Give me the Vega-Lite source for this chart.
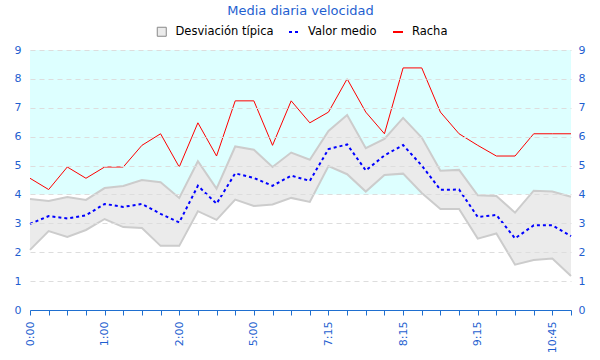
{
  "$schema": "https://vega.github.io/schema/vega-lite/v6.json",
  "width": 541,
  "height": 260,
  "autosize": {"type": "none"},
  "padding": {"left": 30, "top": 50, "right": 29, "bottom": 50},
  "background": "#ffffff",
  "config": {
    "font": "DejaVu Sans",
    "view": {"stroke": null},
    "axis": {"labelFont": "DejaVu Sans", "labelColor": "#1f5fd0", "labelFontSize": 11},
    "legend": {"title": null, "orient": "none", "labelFontSize": 11.5, "labelColor": "#000000", "labelFont": "DejaVu Sans", "labelOffset": 8, "symbolSize": 100, "symbolOpacity": 1}
  },
  "title": {"text": "Media diaria velocidad", "color": "#1f5fd0", "fontSize": 13, "fontWeight": "normal", "anchor": "middle", "offset": 8},
  "datasets": {
    "band": [{"lo": 4, "hi": 9}],
    "obs": [
      {"t": "0:00", "lo": 2.08, "up": 3.84, "mean": 2.98, "gust": 4.56},
      {"t": "0:15", "lo": 2.73, "up": 3.77, "mean": 3.25, "gust": 4.17},
      {"t": "0:30", "lo": 2.53, "up": 3.91, "mean": 3.17, "gust": 4.95},
      {"t": "0:45", "lo": 2.77, "up": 3.81, "mean": 3.28, "gust": 4.56},
      {"t": "1:00", "lo": 3.15, "up": 4.22, "mean": 3.67, "gust": 4.95},
      {"t": "1:15", "lo": 2.87, "up": 4.29, "mean": 3.57, "gust": 4.95},
      {"t": "1:30", "lo": 2.84, "up": 4.5, "mean": 3.67, "gust": 5.7},
      {"t": "1:45", "lo": 2.22, "up": 4.42, "mean": 3.33, "gust": 6.1},
      {"t": "2:00", "lo": 2.22, "up": 3.88, "mean": 3.03, "gust": 4.95},
      {"t": "2:15", "lo": 3.42, "up": 5.15, "mean": 4.3, "gust": 6.48},
      {"t": "2:30", "lo": 3.12, "up": 4.2, "mean": 3.68, "gust": 5.33},
      {"t": "4:45", "lo": 3.82, "up": 5.66, "mean": 4.73, "gust": 7.24},
      {"t": "5:00", "lo": 3.6, "up": 5.55, "mean": 4.57, "gust": 7.24},
      {"t": "5:15", "lo": 3.65, "up": 4.95, "mean": 4.3, "gust": 5.7},
      {"t": "6:45", "lo": 3.88, "up": 5.45, "mean": 4.65, "gust": 7.24},
      {"t": "7:00", "lo": 3.74, "up": 5.2, "mean": 4.47, "gust": 6.48},
      {"t": "7:15", "lo": 4.98, "up": 6.2, "mean": 5.57, "gust": 6.85},
      {"t": "7:30", "lo": 4.7, "up": 6.75, "mean": 5.73, "gust": 8.0},
      {"t": "7:45", "lo": 4.1, "up": 5.6, "mean": 4.83, "gust": 6.85},
      {"t": "8:00", "lo": 4.67, "up": 5.92, "mean": 5.35, "gust": 6.1},
      {"t": "8:15", "lo": 4.72, "up": 6.65, "mean": 5.71, "gust": 8.38},
      {"t": "8:30", "lo": 4.05, "up": 5.97, "mean": 5.0, "gust": 8.38},
      {"t": "8:45", "lo": 3.5, "up": 4.82, "mean": 4.16, "gust": 6.85},
      {"t": "9:00", "lo": 3.5, "up": 4.85, "mean": 4.17, "gust": 6.1},
      {"t": "9:15", "lo": 2.47, "up": 3.97, "mean": 3.22, "gust": 5.7},
      {"t": "9:30", "lo": 2.65, "up": 3.95, "mean": 3.29, "gust": 5.33},
      {"t": "9:45", "lo": 1.57, "up": 3.37, "mean": 2.48, "gust": 5.33},
      {"t": "10:30", "lo": 1.73, "up": 4.13, "mean": 2.93, "gust": 6.1},
      {"t": "10:45", "lo": 1.78, "up": 4.1, "mean": 2.93, "gust": 6.1},
      {"t": "11:00", "lo": 1.18, "up": 3.92, "mean": 2.56, "gust": 6.1}
    ]
  },
  "resolve": {"scale": {"y": "shared"}, "axis": {"y": "independent"}},
  "layer": [
    {
      "data": {"name": "band"},
      "mark": {"type": "rect", "color": "#ddffff"},
      "encoding": {
        "y": {"field": "lo", "type": "quantitative", "scale": {"domain": [0, 9], "nice": false},
          "axis": {"orient": "left", "title": null, "values": [0,1,2,3,4,5,6,7,8,9], "domain": false, "ticks": false, "labelPadding": 9,
            "grid": true, "gridColor": "#dddddd", "gridDash": [5, 4], "gridWidth": 1, "zindex": 1}},
        "y2": {"field": "hi"}
      }
    },
    {
      "data": {"name": "obs"},
      "mark": {"type": "area", "opacity": 1},
      "encoding": {
        "x": {"field": "t", "type": "ordinal", "sort": null, "scale": {"type": "point", "padding": 0},
          "axis": {"title": null, "labelAngle": -90, "labelExpr": "indexof(['0:00','1:00','2:00','5:00','7:15','8:15','9:15','10:45'], datum.value) >= 0 ? datum.value : ''",
            "domainColor": "#1f6fd0", "tickColor": "#1f6fd0", "tickSize": 5, "labelPadding": 6, "grid": false, "zindex": 1}},
        "y": {"field": "lo", "type": "quantitative", "axis": null},
        "y2": {"field": "up"},
        "fill": {"datum": "Desviación típica", "type": "nominal",
          "scale": {"domain": ["Desviación típica"], "range": ["#ebebeb"]},
          "legend": {"legendX": 126, "legendY": -24, "symbolType": "square", "symbolSize": 81, "symbolStrokeColor": "#888888", "symbolStrokeWidth": 1, "symbolFillColor": "#e8e8e8"}}
      }
    },
    {
      "data": {"name": "obs"},
      "mark": {"type": "line", "color": "#cccccc", "strokeWidth": 2},
      "encoding": {
        "x": {"field": "t", "type": "ordinal", "sort": null},
        "y": {"field": "up", "type": "quantitative", "axis": null}
      }
    },
    {
      "data": {"name": "obs"},
      "mark": {"type": "line", "color": "#cccccc", "strokeWidth": 2},
      "encoding": {
        "x": {"field": "t", "type": "ordinal", "sort": null},
        "y": {"field": "lo", "type": "quantitative", "axis": null}
      }
    },
    {
      "data": {"name": "obs"},
      "mark": {"type": "line", "strokeWidth": 2, "color": "#0000ff"},
      "encoding": {
        "x": {"field": "t", "type": "ordinal", "sort": null},
        "y": {"field": "mean", "type": "quantitative", "axis": null},
        "strokeDash": {"datum": "Valor medio", "type": "nominal",
          "scale": {"domain": ["Valor medio"], "range": [[3, 3]]},
          "legend": {"legendX": 258, "legendY": -24, "symbolType": "stroke", "symbolStrokeColor": "#0000ff", "symbolStrokeWidth": 2}}
      }
    },
    {
      "data": {"name": "obs"},
      "mark": {"type": "line", "strokeWidth": 1},
      "encoding": {
        "x": {"field": "t", "type": "ordinal", "sort": null},
        "y": {"field": "gust", "type": "quantitative",
          "axis": {"orient": "right", "title": null, "values": [0,1,2,3,4,5,6,7,8,9], "domain": false, "ticks": false, "labelPadding": 7, "grid": false}},
        "stroke": {"datum": "Racha", "type": "nominal",
          "scale": {"domain": ["Racha"], "range": ["#ff0000"]},
          "legend": {"legendX": 362, "legendY": -24, "symbolType": "stroke", "symbolStrokeWidth": 2}}
      }
    }
  ]
}
